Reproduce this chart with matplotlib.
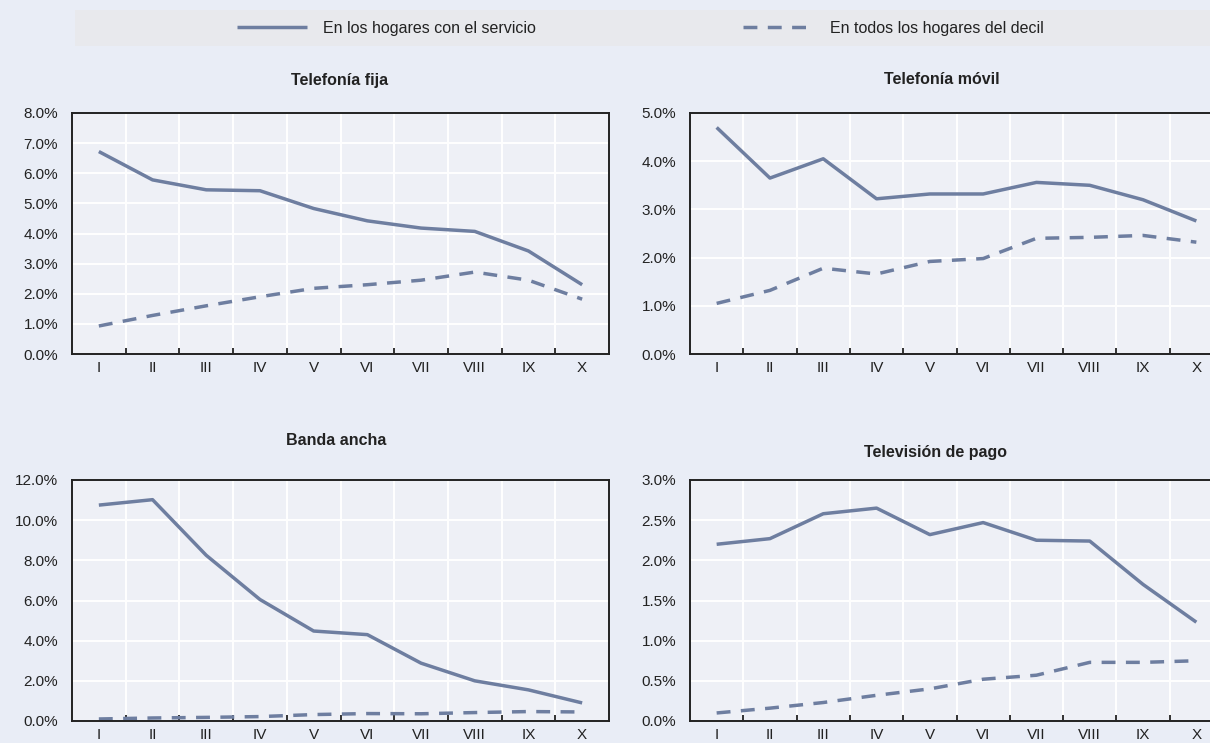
import matplotlib
matplotlib.use("Agg")
import matplotlib.pyplot as plt
from matplotlib.patches import Rectangle
from matplotlib.ticker import FuncFormatter, FixedLocator
import numpy as np

# --- data -------------------------------------------------------------
deciles = ["I", "II", "III", "IV", "V", "VI", "VII", "VIII", "IX", "X"]

fija_servicio = [6.72, 5.78, 5.45, 5.42, 4.83, 4.42, 4.18, 4.07, 3.42, 2.30]
fija_todos = [0.93, 1.28, 1.60, 1.90, 2.18, 2.30, 2.45, 2.72, 2.45, 1.82]

movil_servicio = [4.70, 3.65, 4.05, 3.22, 3.32, 3.32, 3.56, 3.50, 3.20, 2.76]
movil_todos = [1.05, 1.32, 1.78, 1.66, 1.92, 1.98, 2.40, 2.42, 2.46, 2.32]

banda_servicio = [10.75, 11.02, 8.25, 6.05, 4.48, 4.30, 2.88, 2.00, 1.55, 0.90]
banda_todos = [0.10, 0.15, 0.18, 0.22, 0.32, 0.37, 0.36, 0.42, 0.47, 0.45]

tv_servicio = [2.20, 2.27, 2.58, 2.65, 2.32, 2.47, 2.25, 2.24, 1.70, 1.23]
tv_todos = [0.10, 0.16, 0.23, 0.32, 0.40, 0.52, 0.57, 0.73, 0.73, 0.75]

titles = ["Telefonía fija", "Telefonía móvil", "Banda ancha", "Televisión de pago"]
legend_labels = ["En los hogares con el servicio", "En todos los hogares del decil"]

# --- style ------------------------------------------------------------
W, H = 1210, 743
FIG_BG = "#E9EDF6"
AX_BG = "#EEF0F6"
BAND_BG = "#E8E9ED"
LINE = "#6E7EA0"
plt.rcParams["font.family"] = ["Liberation Sans Narrow", "Liberation Sans", "DejaVu Sans"]
plt.rcParams["font.size"] = 11


def px(x0, y0, x1, y1):
    """pixel box (top-left origin) -> figure fraction rect"""
    return [x0 / W, 1 - y1 / H, (x1 - x0) / W, (y1 - y0) / H]


panels = [
    (fija_servicio, fija_todos, 8, 1, px(72, 113, 609, 354), (340, 80)),
    (movil_servicio, movil_todos, 5, 1, px(690, 113, 1223, 354), (942, 80)),
    (banda_servicio, banda_todos, 12, 2, px(72, 480, 609, 721), (336, 440)),
    (tv_servicio, tv_todos, 3, 0.5, px(690, 480, 1223, 721), (935, 452)),
]

fig = plt.figure(figsize=(W / 100, H / 100), dpi=100)
fig.patch.set_facecolor(FIG_BG)

x = np.arange(len(deciles))
handles = []
for i, (serv, todos, ymax, step, rect, tpos) in enumerate(panels):
    ax = fig.add_axes(rect)
    ax.set_facecolor(AX_BG)
    h1, = ax.plot(x, serv, color=LINE, lw=2.5, solid_capstyle="butt")
    h2, = ax.plot(x, todos, color=LINE, lw=2.5, dashes=(4.0, 3.0))
    if i == 0:
        handles = [h1, h2]
    ax.set_xlim(-0.5, len(deciles) - 0.5)
    ax.set_ylim(0, ymax)

    ax.set_yticks(np.arange(0, ymax + step / 2, step))
    ax.yaxis.set_major_formatter(FuncFormatter(lambda v, p: f"{v:.1f}%"))
    ax.tick_params(axis="y", length=0, pad=10, labelsize=11, colors="#222222")

    # ticks + gridlines at decile boundaries, labels at centres
    ax.xaxis.set_major_locator(FixedLocator(x[:-1] + 0.5))
    ax.xaxis.set_minor_locator(FixedLocator(x))
    ax.set_xticklabels([], minor=False)
    ax.set_xticklabels(deciles, minor=True)
    ax.tick_params(axis="x", which="major", direction="in", length=4, width=1.3, color="#222222")
    ax.tick_params(axis="x", which="minor", length=0, pad=5, labelsize=11, colors="#222222")

    ax.grid(True, which="major", color="white", lw=1.4)
    ax.set_axisbelow(True)
    for s in ax.spines.values():
        s.set_color("#222222")
        s.set_linewidth(1.4)

    fig.text(tpos[0] / W, 1 - tpos[1] / H, titles[i], ha="center", va="center",
             fontsize=11.5, fontweight="bold", color="#222222")

# legend band
fig.patches.append(Rectangle((75 / W, 1 - 46 / H), 1 - 75 / W, 36 / H,
                             transform=fig.transFigure, facecolor=BAND_BG,
                             edgecolor="none", zorder=0))
leg = fig.legend(handles, legend_labels, loc="center", ncol=2,
                 bbox_to_anchor=(640 / W, 1 - 28 / H), frameon=False,
                 handlelength=4.4, handletextpad=1.0, columnspacing=13,
                 fontsize=11.5)
for t in leg.get_texts():
    t.set_color("#222222")

fig.savefig("out.png", dpi=100, facecolor=fig.get_facecolor())
